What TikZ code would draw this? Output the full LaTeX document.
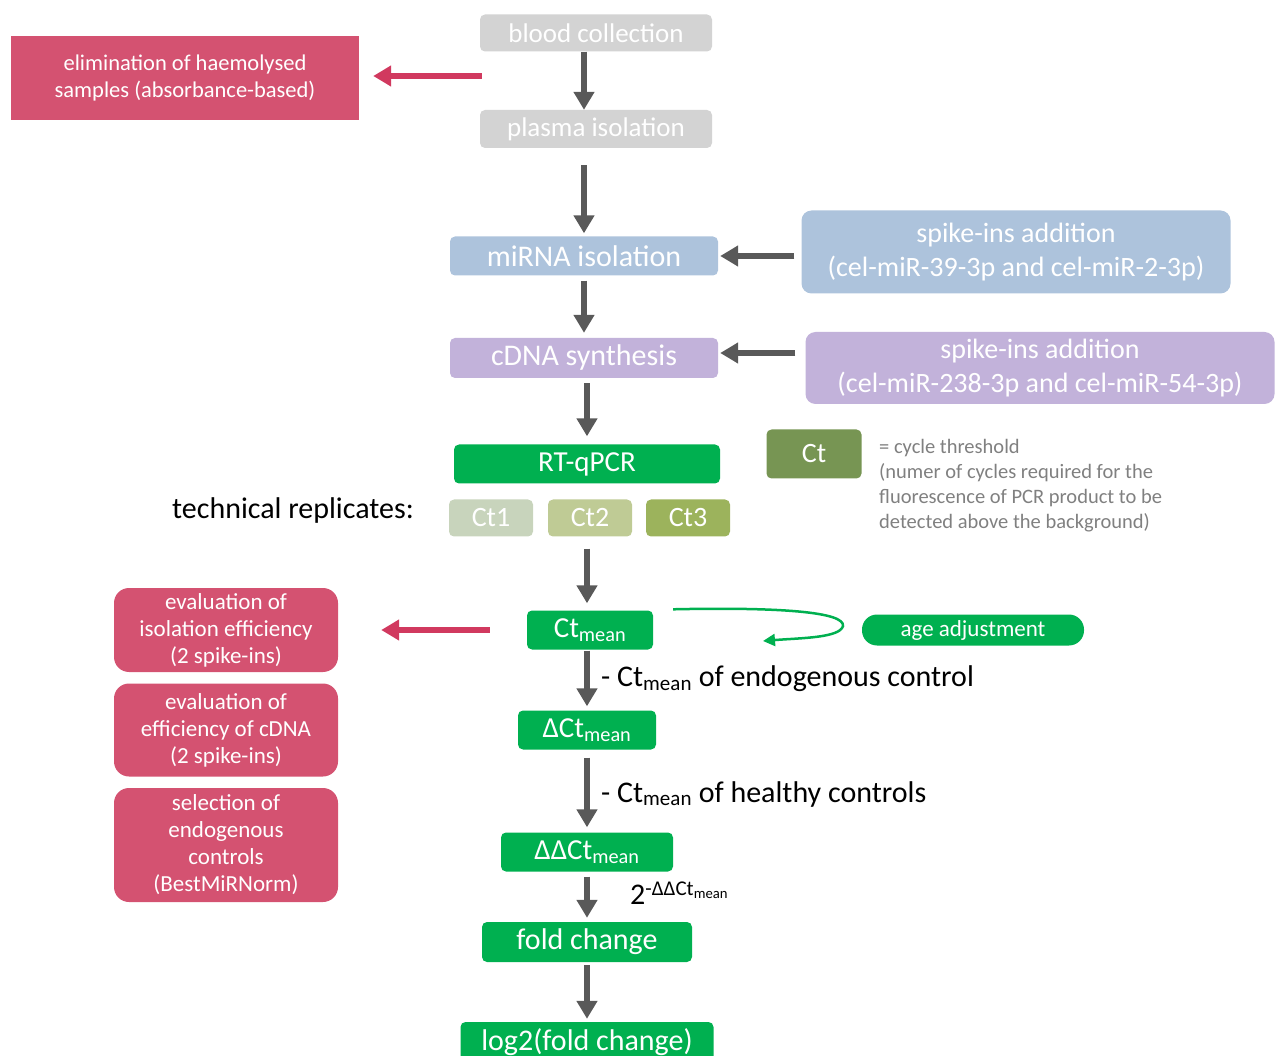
\documentclass[tikz,border=0pt]{standalone}
\usepackage{fontspec}
\setmainfont{Carlito}
\usetikzlibrary{arrows.meta,calc}
\newdimen\unitsize
\setlength{\unitsize}{1pt}
\definecolor{boxgray}{HTML}{D3D3D3}
\definecolor{boxred}{HTML}{D45271}
\definecolor{arrred}{HTML}{D1395F}
\definecolor{boxblue}{HTML}{ADC3DC}
\definecolor{boxlilac}{HTML}{C2B2DA}
\definecolor{boxgreen}{HTML}{00B050}
\definecolor{ctone}{HTML}{C8D4BC}
\definecolor{cttwo}{HTML}{BFCB95}
\definecolor{ctthree}{HTML}{9CB35C}
\definecolor{ctdark}{HTML}{779553}
\definecolor{arrgray}{HTML}{595959}
\definecolor{legendgray}{HTML}{808080}

\begin{document}
\begin{tikzpicture}[x=\unitsize,y=-\unitsize]
\tikzset{box/.style={rounded corners=5pt, text=white, inner sep=0pt, align=center, font=\fontsize{27}{31}\selectfont}}%
\tikzset{sidebox/.style={box, rounded corners=15pt, fill=boxred, minimum width=224pt, font=\fontsize{23}{27}\selectfont}}%
\tikzset{flow/.style={draw=arrgray, line width=6pt, -{Triangle[width=20pt,length=18pt]}}}%
\tikzset{redflow/.style={draw=arrred, line width=6pt, -{Triangle[width=20pt,length=18pt]}}}%
\tikzset{label/.style={anchor=west, inner sep=0pt, font=\fontsize{30}{34}\selectfont}}%
\useasboundingbox (0,0) rectangle (1278,1056);
% main column
\node[box, fill=boxgray, minimum width=232pt, minimum height=37pt] (blood) at (596,33) {blood collection};
\node[box, fill=boxgray, minimum width=232pt, minimum height=38pt] (plasma) at (596,129) {plasma isolation};
\node[box, fill=boxblue, minimum width=268pt, minimum height=39pt, font=\fontsize{30}{34}\selectfont] (mirna) at (584,256) {miRNA isolation};
\node[box, fill=boxlilac, minimum width=268pt, minimum height=40pt, font=\fontsize{30}{34}\selectfont] (cdna) at (584,358) {cDNA synthesis};
\node[box, fill=boxgreen, minimum width=266pt, minimum height=39pt, font=\fontsize{29}{33}\selectfont] (rtqpcr) at (587,464) {RT-qPCR};
\node[box, fill=ctone, minimum width=84pt, minimum height=37pt, font=\fontsize{28}{32}\selectfont] (ctA) at (491,518) {Ct1};
\node[box, fill=cttwo, minimum width=84pt, minimum height=37pt, font=\fontsize{28}{32}\selectfont] (ctB) at (590,518) {Ct2};
\node[box, fill=ctthree, minimum width=84pt, minimum height=37pt, font=\fontsize{28}{32}\selectfont] (ctC) at (688,518) {Ct3};
\node[label, anchor=center] (techrep) at (293,511) {technical replicates:};
\node[box, fill=boxgreen, minimum width=126pt, minimum height=39pt, font=\fontsize{29}{33}\selectfont] (ctmean) at (590,630) {Ct\textsubscript{mean}};
\node[box, fill=boxgreen, minimum width=138pt, minimum height=39pt, font=\fontsize{29}{33}\selectfont] (dct) at (587,730) {ΔCt\textsubscript{mean}};
\node[box, fill=boxgreen, minimum width=172pt, minimum height=39pt, font=\fontsize{29}{33}\selectfont] (ddct) at (587,852) {ΔΔCt\textsubscript{mean}};
\node[box, fill=boxgreen, minimum width=210pt, minimum height=40pt, font=\fontsize{30}{34}\selectfont] (fold) at (587,942) {fold change};
\node[box, fill=boxgreen, minimum width=253pt, minimum height=40pt, font=\fontsize{30}{34}\selectfont] (logfold) at (587,1042) {log2(fold change)};
% side boxes
\node[box, rounded corners=0pt, fill=boxred, minimum width=348pt, minimum height=84pt, font=\fontsize{22.5}{27}\selectfont] (haemo) at (185,78) {elimination of haemolysed\\samples (absorbance-based)};
\node[box, rounded corners=10pt, fill=boxblue, minimum width=429pt, minimum height=83pt, font=\fontsize{28}{34}\selectfont] (spikeA) at (1016,252) {spike-ins addition\\(cel-miR-39-3p and cel-miR-2-3p)};
\node[box, rounded corners=10pt, fill=boxlilac, minimum width=469pt, minimum height=72pt, font=\fontsize{28}{34}\selectfont] (spikeB) at (1040,368) {spike-ins addition\\(cel-miR-238-3p and cel-miR-54-3p)};
\node[box, fill=ctdark, minimum width=95pt, minimum height=49pt, font=\fontsize{28}{32}\selectfont] (ctlegend) at (814,454) {Ct};
\node[anchor=north west, inner sep=0pt, align=left, text=legendgray, font=\fontsize{20.5}{25}\selectfont] (legendtext) at (879,439) {= cycle threshold\\(numer of cycles required for the\\fluorescence of PCR product to be\\detected above the background)};
\node[sidebox, minimum height=84pt] (evaliso) at (226,630) {evaluation of\\isolation efficiency\\(2 spike-ins)};
\node[sidebox, minimum height=93pt] (evalcdna) at (226,730) {evaluation of\\efficiency of cDNA\\(2 spike-ins)};
\node[sidebox, minimum height=114pt] (selendo) at (226,845) {selection of\\endogenous\\controls\\(BestMiRNorm)};
\node[box, rounded corners=15pt, fill=boxgreen, minimum width=222pt, minimum height=31pt, font=\fontsize{23}{27}\selectfont] (age) at (973,630) {age adjustment};
% step labels
\node[label] (endolabel) at (601,679) {- Ct\textsubscript{mean} of endogenous control};
\node[label] (healthylabel) at (601,794) {- Ct\textsubscript{mean} of healthy controls};
\node[label] (powerlabel) at (630,893) {2\textsuperscript{-ΔΔCt\textsubscript{mean}}};
% connectors
\draw[flow] (blood.south -| mirna.center) -- (plasma.north -| mirna.center);
\draw[flow, shorten <=17pt, shorten >=3pt] (plasma.south -| mirna.center) -- (mirna.north -| mirna.center);
\draw[flow, shorten <=5pt, shorten >=5pt] (mirna.south) -- (cdna.north);
\draw[flow, shorten <=5pt, shorten >=8pt] (cdna.south -| rtqpcr.center) -- (rtqpcr.north -| rtqpcr.center);
\draw[flow, shorten <=12pt, shorten >=7pt] (ctB.south -| rtqpcr.center) -- (ctmean.north -| rtqpcr.center);
\draw[flow, shorten <=1pt, shorten >=4pt] (ctmean.south -| rtqpcr.center) -- (dct.north -| rtqpcr.center);
\draw[flow, shorten <=8pt, shorten >=5pt] (dct.south -| rtqpcr.center) -- (ddct.north -| rtqpcr.center);
\draw[flow, shorten <=5pt, shorten >=4pt] (ddct.south -| rtqpcr.center) -- (fold.north -| rtqpcr.center);
\draw[flow, shorten <=3pt, shorten >=3pt] (fold.south -| rtqpcr.center) -- (logfold.north -| rtqpcr.center);
\draw[flow, shorten <=7pt, shorten >=2pt] (spikeA.west |- mirna.center) -- (mirna.east);
\draw[flow, shorten <=10pt, shorten >=2pt] (spikeB.west |- 0,353) -- (cdna.east |- 0,353);
\draw[redflow, shorten >=14pt] ($(plasma.west)+(2,-53)$) -- (haemo.east |- 0,76);
\draw[redflow, shorten <=37pt, shorten >=43pt] (ctmean.west) -- (evaliso.east);
\coordinate (agebend) at (843,626);
\coordinate (agetip) at (763,641);
\draw[boxgreen, line width=2.5pt, -{Triangle[width=12pt,length=12pt]}] ($(ctmean.north east)+(20,-1)$) .. controls (780,607) and (845,612) .. (agebend) .. controls (840,638) and (800,638) .. (agetip);
\end{tikzpicture}
\end{document}
